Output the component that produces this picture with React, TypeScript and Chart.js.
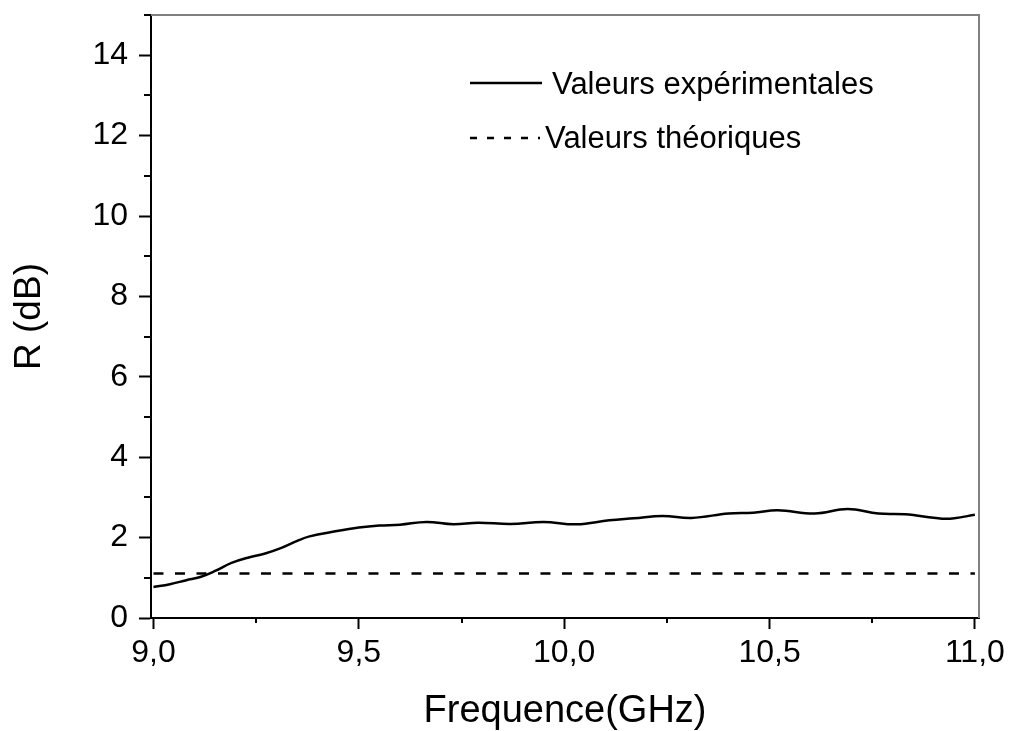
import React, { useEffect, useRef } from 'react';
import { Chart, registerables } from 'chart.js';

Chart.register(...registerables);

// ---- Data ----
const freqExp = [
  9.0, 9.04, 9.08, 9.114, 9.15, 9.19, 9.23, 9.27, 9.31, 9.35, 9.38, 9.44, 9.5, 9.55, 9.6,
  9.665, 9.73, 9.79, 9.87, 9.95, 10.03, 10.11, 10.17, 10.24, 10.31, 10.4, 10.46, 10.52,
  10.61, 10.69, 10.765, 10.83, 10.92, 10.95, 11.0,
];
const rExp = [
  0.77, 0.84, 0.94, 1.02, 1.17, 1.37, 1.5, 1.6, 1.74, 1.92, 2.03, 2.15, 2.25, 2.3, 2.32,
  2.39, 2.33, 2.37, 2.34, 2.39, 2.33, 2.43, 2.48, 2.54, 2.49, 2.6, 2.62, 2.68,
  2.6, 2.71, 2.6, 2.58, 2.47, 2.48, 2.57,
];
const freqTheo = [9.0, 11.0];
const rTheo = [1.11, 1.11];

const xMajorTicks = [9.0, 9.5, 10.0, 10.5, 11.0];
const xMinorTicks = [9.25, 9.75, 10.25, 10.75];
const yMajorTicks = [0, 2, 4, 6, 8, 10, 12, 14];
const yMinorTicks = [1, 3, 5, 7, 9, 11, 13, 15];

const seriesLabels = ['Valeurs expérimentales', 'Valeurs théoriques'];
const xTitle = 'Frequence(GHz)';
const yTitle = 'R (dB)';

const FONT = "'Liberation Sans', Arial, sans-serif";

const framePlugin = {
  id: 'framePlugin',
  afterDraw(chart: any) {
    const { ctx, chartArea, scales } = chart;
    const { left, right, top, bottom } = chartArea;
    const xs = scales.x;
    const ys = scales.y;
    ctx.save();
    // top and right frame (gray)
    ctx.strokeStyle = '#808080';
    ctx.lineWidth = 2;
    ctx.setLineDash([]);
    ctx.beginPath();
    ctx.moveTo(left, top);
    ctx.lineTo(right, top);
    ctx.lineTo(right, bottom);
    ctx.stroke();

    // minor ticks
    ctx.strokeStyle = '#000';
    ctx.lineWidth = 2;
    ctx.beginPath();
    xMinorTicks.forEach((v) => {
      const px = Math.round(xs.getPixelForValue(v));
      ctx.moveTo(px, bottom);
      ctx.lineTo(px, bottom + 5);
    });
    yMinorTicks.forEach((v) => {
      const py = Math.round(ys.getPixelForValue(v));
      ctx.moveTo(left, py);
      ctx.lineTo(left - 7, py);
    });
    ctx.stroke();

    // legend
    const ds = chart.data.datasets;
    const rows = [
      { lineY: 83, textX: 552, textY: 85 },
      { lineY: 138, textX: 545, textY: 139 },
    ];
    ds.forEach((d: any, i: number) => {
      const r = rows[i];
      ctx.strokeStyle = d.borderColor;
      ctx.lineWidth = 2.5;
      ctx.setLineDash(i === 1 ? [7, 10] : []);
      ctx.beginPath();
      ctx.moveTo(470, r.lineY);
      ctx.lineTo(i === 1 ? 540 : 542, r.lineY);
      ctx.stroke();
      ctx.setLineDash([]);
      ctx.fillStyle = '#000';
      ctx.font = `31px ${FONT}`;
      ctx.textAlign = 'left';
      ctx.textBaseline = 'middle';
      ctx.fillText(d.label, r.textX, r.textY);
    });
    ctx.restore();
  },
};

export default function App() {
  const ref = useRef<HTMLCanvasElement | null>(null);

  useEffect(() => {
    document.body.style.margin = '0';
    if (!ref.current) return;
    const chart = new Chart(ref.current, {
      type: 'line',
      data: {
        datasets: [
          {
            label: seriesLabels[0],
            data: freqExp.map((f, i) => ({ x: f, y: rExp[i] })),
            borderColor: '#000',
            borderWidth: 2.5,
            pointRadius: 0,
            tension: 0.4,
            fill: false,
          },
          {
            label: seriesLabels[1],
            data: freqTheo.map((f, i) => ({ x: f, y: rTheo[i] })),
            borderColor: '#000',
            borderWidth: 2.5,
            borderDash: [10, 11.5],
            pointRadius: 0,
            fill: false,
          },
        ],
      },
      options: {
        responsive: false,
        animation: false,
        devicePixelRatio: 1,
        layout: { padding: { left: 0, right: 31, top: 15, bottom: 0 } },
        plugins: { legend: { display: false }, tooltip: { enabled: false }, title: { display: false } },
        scales: {
          x: {
            type: 'linear',
            min: 8.994,
            max: 11.01,
            afterBuildTicks: (s: any) => {
              s.ticks = xMajorTicks.map((v) => ({ value: v }));
            },
            afterFit: (s: any) => {
              s.height = 113;
              s.paddingLeft = 0;
              s.paddingRight = 0;
              s.paddingTop = 0;
              s.paddingBottom = 0;
            },
            grid: {
              drawOnChartArea: false,
              drawTicks: true,
              tickLength: 11,
              tickWidth: 2,
              tickColor: '#000',
            },
            border: { display: true, color: '#000', width: 2 },
            ticks: {
              color: '#000',
              padding: 5,
              maxRotation: 0,
              font: { family: FONT, size: 32 },
              callback: (v: any) => Number(v).toFixed(1).replace('.', ','),
            },
            title: {
              display: true,
              text: xTitle,
              color: '#000',
              font: { family: FONT, size: 38, lineHeight: 1 },
              padding: { top: 0, bottom: 0 },
            },
          },
          y: {
            type: 'linear',
            min: 0,
            max: 15,
            afterBuildTicks: (s: any) => {
              s.ticks = yMajorTicks.map((v) => ({ value: v }));
            },
            afterFit: (s: any) => {
              s.width = 151;
              s.paddingLeft = 0;
              s.paddingRight = 0;
              s.paddingTop = 0;
              s.paddingBottom = 0;
            },
            grid: {
              drawOnChartArea: false,
              drawTicks: true,
              tickLength: 12,
              tickWidth: 2,
              tickColor: '#000',
            },
            border: { display: true, color: '#000', width: 2 },
            ticks: {
              color: '#000',
              padding: 11,
              font: { family: FONT, size: 32 },
              callback: (v: any) => String(v),
            },
            title: {
              display: true,
              text: yTitle,
              color: '#000',
              font: { family: FONT, size: 37, lineHeight: 1 },
              padding: { top: 11, bottom: 0 },
            },
          },
        },
      } as any,
      plugins: [framePlugin],
    });
    return () => chart.destroy();
  }, []);

  return (
    <div style={{ width: 1010, height: 731 }}>
      <canvas ref={ref} width={1010} height={731} style={{ display: 'block' }} />
    </div>
  );
}
